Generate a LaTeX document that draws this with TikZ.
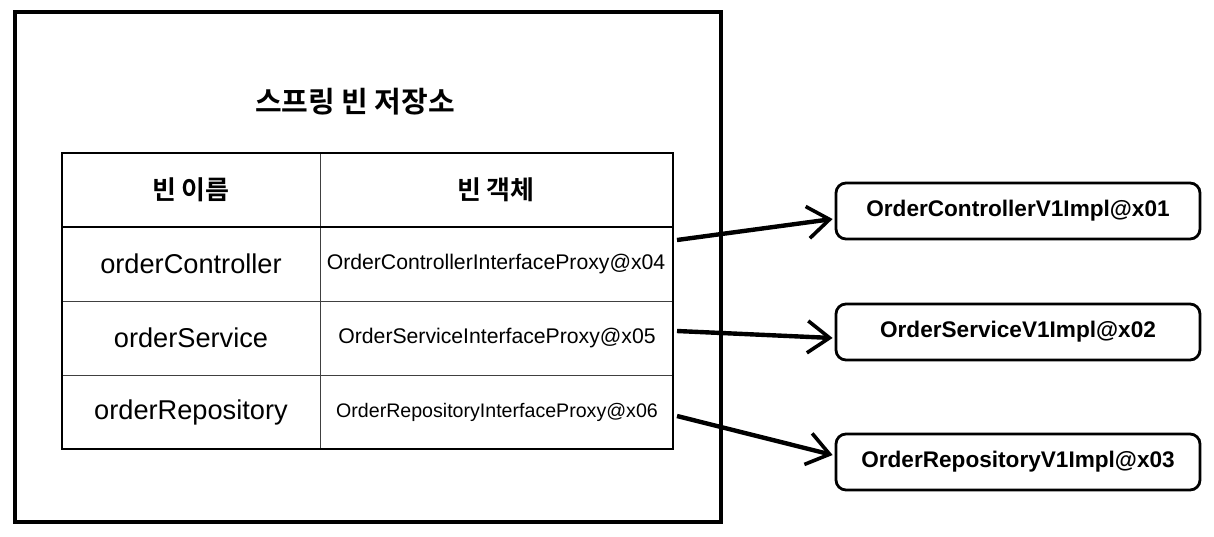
\documentclass[tikz,border=0pt]{standalone}
\usepackage{fontspec}
\setmainfont{Liberation Sans}
\newfontfamily\kr{Noto Sans CJK KR}[BoldFont={Noto Sans CJK KR Bold}]
\usetikzlibrary{arrows.meta}
\begin{document}
\begin{tikzpicture}[x=0.5pt,y=-0.5pt,
  title/.style={font=\kr\bfseries\fontsize{14.5}{17}\selectfont},
  head/.style={font=\kr\bfseries\fontsize{13}{15}\selectfont},
  bname/.style={font=\fontsize{13.6}{16}\selectfont},
  bobj/.style={font=\fontsize{10.6}{13}\selectfont},
  impl/.style={draw, line width=1.4pt, rounded corners=5pt, minimum width=182pt, minimum height=28pt, font=\bfseries\fontsize{11.3}{13}\selectfont},
  grid/.style={line width=0.5pt, draw=black!75},
  ptr/.style={line width=2.2pt, -{Straight Barb[length=11pt,width=16pt,line width=1.8pt]}}
]
\useasboundingbox (0,0) rectangle (1214,536);
% outer container
\draw[line width=2pt] (15,12) rectangle (721,522);
\node[title] (t) at (355,102) {스프링 빈 저장소};
% table
\draw[grid] (320,153) -- (320,449);
\draw[grid] (62,301) -- (673,301);
\draw[grid] (62,375) -- (673,375);
\draw[line width=1pt] (62,227) -- (673,227);
\draw[line width=1pt] (62,153) rectangle (673,449);
\node[head] (h1) at (191,190) {빈 이름};
\node[head] (h2) at (496,190) {빈 객체};
\node[bname] (n1) at (191,264) {orderController};
\node[bname] (n2) at (191,338) {orderService};
\node[bname] (n3) at (191,412) {orderRepository};
\node[bobj] (o1) at (496,264) {OrderControllerInterfaceProxy@x04};
\node[bobj] (o2) at (497,338) {OrderServiceInterfaceProxy@x05};
\node[bobj, font=\fontsize{9.8}{12}\selectfont] (o3) at (497,412) {OrderRepositoryInterfaceProxy@x06};
% impl boxes
\node[impl] (b1) at (1018,211) {OrderControllerV1Impl@x01};
\node[impl] (b2) at (1018,332) {OrderServiceV1Impl@x02};
\node[impl] (b3) at (1018,462) {OrderRepositoryV1Impl@x03};
% arrows
\coordinate (s1) at (677,240);
\coordinate (s2) at (677,331);
\coordinate (s3) at (677,416);
\draw[ptr] (s1) -- ([xshift=-1pt,yshift=-4pt]b1.west);
\draw[ptr] (s2) -- ([xshift=-1pt,yshift=-3pt]b2.west);
\draw[ptr] (s3) -- ([xshift=-1pt,yshift=3.5pt]b3.west);
\end{tikzpicture}
\end{document}
